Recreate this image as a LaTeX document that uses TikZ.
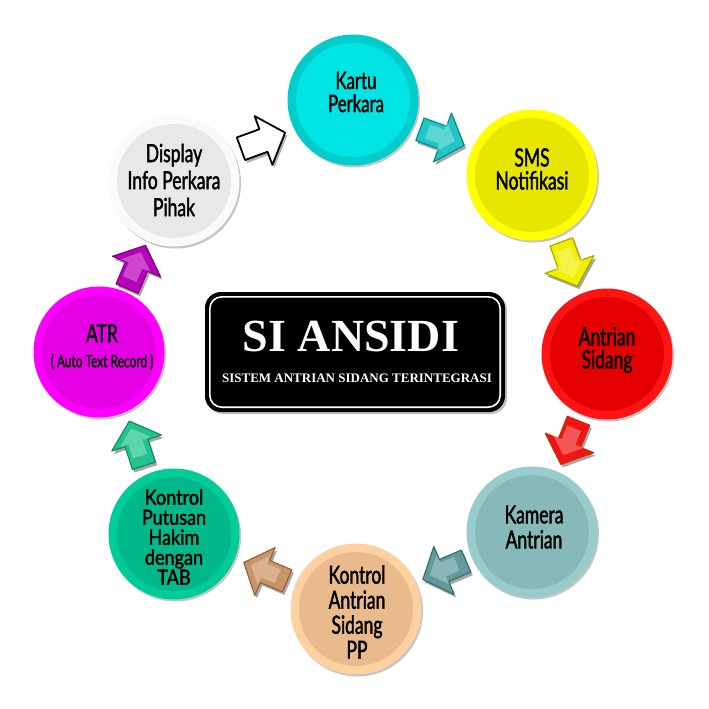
\documentclass[tikz,border=0pt]{standalone}
\usepackage{fontspec}
\setmainfont{Liberation Serif}
\newfontfamily\condfont[FakeStretch=0.70, FakeBold=1.6]{Lato}
\newfontfamily\widefont[FakeStretch=0.86, FakeBold=2]{Lato}
\usetikzlibrary{calc,shadows}

\definecolor{kartuR}{RGB}{0,204,204}\definecolor{kartuI}{RGB}{0,228,228}
\definecolor{smsR}{RGB}{255,255,0}\definecolor{smsI}{RGB}{230,230,0}
\definecolor{antR}{RGB}{255,20,20}\definecolor{antI}{RGB}{228,0,0}
\definecolor{kamR}{RGB}{152,204,204}\definecolor{kamI}{RGB}{136,185,185}
\definecolor{kaR}{RGB}{255,208,160}\definecolor{kaI}{RGB}{232,186,140}
\definecolor{putR}{RGB}{0,204,153}\definecolor{putI}{RGB}{0,184,138}
\definecolor{atrR}{RGB}{255,0,255}\definecolor{atrI}{RGB}{230,0,230}
\definecolor{disR}{RGB}{250,250,250}\definecolor{disI}{RGB}{232,232,232}

\definecolor{aCyan}{RGB}{32,198,198}\definecolor{aCyanD}{RGB}{10,140,140}
\definecolor{aYel}{RGB}{240,240,0}\definecolor{aYelD}{RGB}{170,170,0}
\definecolor{aRed}{RGB}{240,20,20}\definecolor{aRedD}{RGB}{210,40,0}
\definecolor{aTeal}{RGB}{95,155,155}\definecolor{aTealD}{RGB}{60,110,110}
\definecolor{aBrown}{RGB}{200,150,100}\definecolor{aBrownD}{RGB}{150,100,60}
\definecolor{aGreen}{RGB}{35,195,145}\definecolor{aGreenD}{RGB}{20,140,100}
\definecolor{aMag}{RGB}{185,0,185}\definecolor{aMagD}{RGB}{130,0,130}

\def\arrowpath{(-24,-12)--(0,-12)--(0,-26)--(23,0)--(0,26)--(0,12)--(-24,12)--cycle}
% #1 from node, #2 to node, #3 angle, #4 fill, #5 outline
\newcommand\blkarrow[5]{%
  \fill[black, opacity=.35, shift={($(#1)!.5!(#2)+(2,3)$)}, rotate=#3] \arrowpath;
  \filldraw[fill=#4, draw=#5, line width=1.2pt, line join=round,
    shift={($(#1)!.5!(#2)$)}, rotate=#3] \arrowpath;
  \fill[white, opacity=.28, shift={($(#1)!.5!(#2)+(-1,-1)$)}, rotate=#3, scale=.62] \arrowpath;
}

\tikzset{
  bub/.style n args={2}{circle, inner sep=0pt, minimum size=131pt, fill=#1,
    drop shadow={shadow xshift=1.5pt, shadow yshift=-2pt, opacity=.45},
    path picture={\fill[#2] (path picture bounding box.center) circle (57pt);}},
  lbl/.style={align=center, text=black, inner sep=0pt,
    font=\condfont\fontsize{24}{23}\selectfont},
}

\begin{document}
\begin{tikzpicture}[x=1pt,y=-1pt]
\fill[white] (0,0) rectangle (709,709);
\useasboundingbox (0,0) rectangle (709,709);

% circles
\node[bub={kartuR}{kartuI}] (kartu) at (353,100) {};
\node[bub={smsR}{smsI}]     (sms)   at (532,175) {};
\node[bub={antR}{antI}]     (ant)   at (607,354) {};
\node[bub={kamR}{kamI}]     (kam)   at (532,532) {};
\node[bub={kaR}{kaI}]       (ka)    at (356,609) {};
\node[bub={putR}{putI}]     (put)   at (174,534) {};
\node[bub={atrR}{atrI}]     (atr)   at (99,352) {};
\node[bub={disR}{disI}]     (dis)   at (174,181) {};

% labels
\node[lbl] (kartu-l) at (356,92) {Kartu\\Perkara};
\node[lbl, font=\condfont\fontsize{25}{23}\selectfont] (sms-l) at (532,169) {SMS\\Notifikasi};
\node[lbl, font=\condfont\fontsize{25}{23}\selectfont] (ant-l) at (607,350) {Antrian\\Sidang};
\node[lbl, font=\condfont\fontsize{25}{25}\selectfont] (kam-l) at (534,527) {Kamera\\Antrian};
\node[lbl, font=\condfont\fontsize{25}{25}\selectfont] (ka-l) at (357,612) {Kontrol\\Antrian\\Sidang\\PP};
\node[lbl, font=\widefont\fontsize{21}{20}\selectfont] (put-l) at (174,537) {Kontrol\\Putusan\\Hakim\\dengan\\TAB};
\node[lbl, font=\condfont\fontsize{25}{25}\selectfont] (atr-l) at (102,347) {ATR\\{\fontsize{17}{25}\selectfont (\ Auto\ Text\ Record\ )}};
\node[lbl, font=\condfont\fontsize{25}{27}\selectfont] (dis-l) at (174,180) {Display\\Info Perkara\\Pihak};

% arrows between circles
\fill[black, opacity=.3, shift={($(dis)!.5!(kartu)+(2,3)$)}, rotate=20] \arrowpath;
\filldraw[fill=white, draw=black, line width=1.8pt, line join=round,
  shift={($(dis)!.5!(kartu)$)}, rotate=20] \arrowpath;
\blkarrow{kartu}{sms}{-20}{aCyan}{aCyanD}
\blkarrow{sms}{ant}{-70}{aYel}{aYelD}
\blkarrow{ant}{kam}{-112}{aRed}{aRedD}
\blkarrow{kam}{ka}{-157}{aTeal}{aTealD}
\blkarrow{ka}{put}{157}{aBrown}{aBrownD}
\blkarrow{put}{atr}{108}{aGreen}{aGreenD}
\blkarrow{atr}{dis}{67}{aMag}{aMagD}

% central title box
\node[rectangle, rounded corners=16pt, minimum width=300pt, minimum height=120pt,
  fill=black, drop shadow={shadow xshift=2pt, shadow yshift=-2pt, opacity=.5}] (box) at (355,352) {};
\draw[white, line width=1.6pt, rounded corners=12pt]
  ([shift={(5pt,-5pt)}]box.north west) rectangle ([shift={(-5pt,5pt)}]box.south east);
\node[text=white, inner sep=0pt, font=\bfseries\fontsize{46}{46}\selectfont] (title) at (351,336) {SI ANSIDI};
\node[text=white, inner sep=0pt, font=\bfseries\fontsize{13}{13}\selectfont] (subtitle) at (357,378) {SISTEM ANTRIAN SIDANG TERINTEGRASI};
\end{tikzpicture}
\end{document}
